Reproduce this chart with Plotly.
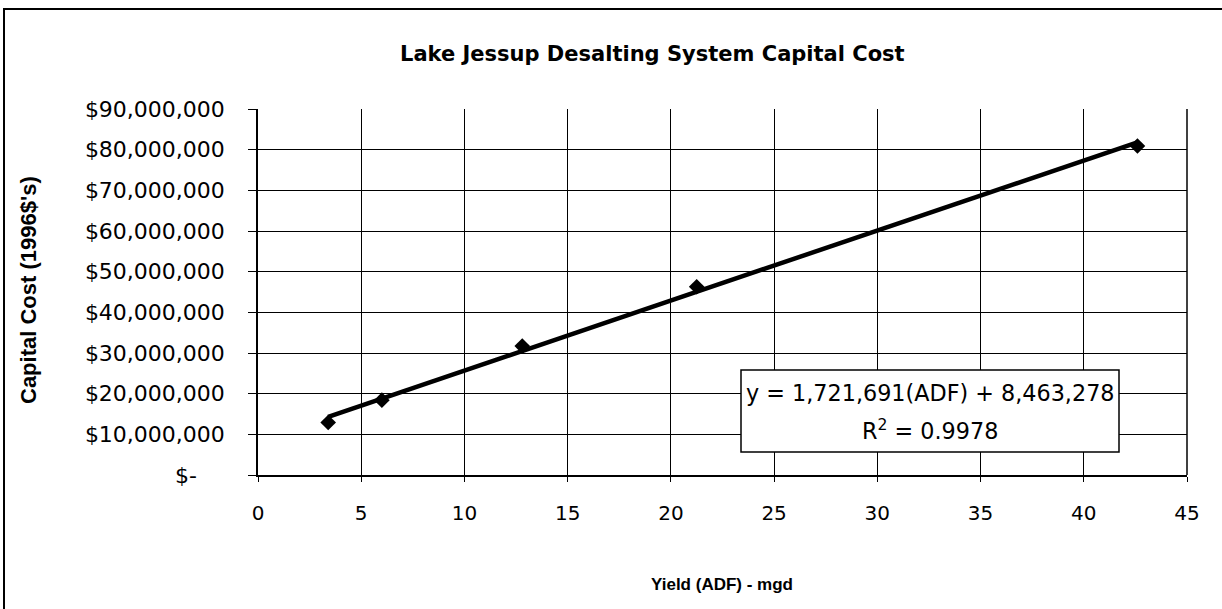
import plotly.graph_objects as go

# Plant size (average daily flow, mgd) vs capital cost (1996 dollars)
yield_mgd = [3.4, 6.0, 12.8, 21.25, 42.6]
capital_cost = [12_900_000, 18_400_000, 31_700_000, 46_300_000, 80_900_000]

# Linear trendline coefficients
slope = 1_721_691
intercept = 8_463_278
r_squared = 0.9978

y_ticks = [0, 10_000_000, 20_000_000, 30_000_000, 40_000_000,
           50_000_000, 60_000_000, 70_000_000, 80_000_000, 90_000_000]
x_ticks = [0, 5, 10, 15, 20, 25, 30, 35, 40, 45]

NBSP = "\u00a0"


def money(v):
    # accounting-style label: zero shown as a dash
    return "$-" + NBSP * 4 if v == 0 else "${:,}".format(v)


FONT = "Liberation Sans"
WIDE_FONT = "DejaVu Sans"
W, H = 1222, 609
L, R, T, B = 258, 35, 109, 134
PW, PH = W - L - R, H - T - B


def px(x):
    return (x - L) / PW


def py(y):
    return (H - B - y) / PH


trend_x = [min(yield_mgd), max(yield_mgd)]
trend_y = [slope * x + intercept for x in trend_x]

fig = go.Figure()
fig.add_trace(go.Scatter(
    x=trend_x, y=trend_y, mode="lines",
    line=dict(color="black", width=4.5), hoverinfo="skip", showlegend=False))
fig.add_trace(go.Scatter(
    x=yield_mgd, y=capital_cost, mode="markers",
    marker=dict(symbol="diamond", size=12, color="black"), showlegend=False))

axis_common = dict(
    showgrid=True, gridcolor="black", gridwidth=1,
    showline=True, linecolor="black", linewidth=1.5,
    zeroline=False, mirror=False,
    tickcolor="black",
)

fig.update_xaxes(
    range=[0, 45], tickvals=x_ticks, ticktext=[str(v) for v in x_ticks],
    ticks="outside", ticklen=5, ticklabelstandoff=14,
    tickfont=dict(family=WIDE_FONT, size=20, color="black"), **axis_common)
fig.update_yaxes(
    range=[0, 90_000_000], tickvals=y_ticks, ticktext=[money(v) for v in y_ticks],
    ticks="outside", ticklen=8, ticklabelstandoff=19,
    tickfont=dict(family=WIDE_FONT, size=22, color="black"), **axis_common)

shapes = [
    # outer chart frame
    dict(type="rect", xref="paper", yref="paper",
         x0=px(4), x1=px(1240), y0=py(9), y1=py(640),
         line=dict(color="black", width=2), fillcolor="rgba(0,0,0,0)", layer="below"),
    # right plot edge
    dict(type="line", xref="paper", yref="paper", x0=1, x1=1, y0=0, y1=1,
         line=dict(color="black", width=1.5)),
    # equation box
    dict(type="rect", xref="paper", yref="paper",
         x0=px(741), x1=px(1119), y0=py(452), y1=py(370),
         line=dict(color="black", width=1.5), fillcolor="white", layer="above"),
]

annotations = [
    dict(text="<b>Lake Jessup Desalting System Capital Cost</b>",
         xref="paper", yref="paper", x=px(652), y=py(54),
         xanchor="center", yanchor="middle",
         showarrow=False, font=dict(family=WIDE_FONT, size=21, color="black")),
    dict(text="<b>Capital Cost (1996$'s)</b>", textangle=-90,
         xref="paper", yref="paper", x=px(28), y=py(290),
         xanchor="center", yanchor="middle",
         showarrow=False, font=dict(family=FONT, size=22, color="black")),
    dict(text="<b>Yield (ADF) - mgd</b>",
         xref="paper", yref="paper", x=px(722), y=py(584),
         xanchor="center", yanchor="middle",
         showarrow=False, font=dict(family=FONT, size=17, color="black")),
    dict(text="y = {:,}(ADF) + {:,}".format(slope, intercept),
         xref="paper", yref="paper", x=px(930), y=py(393),
         xanchor="center", yanchor="middle",
         showarrow=False, font=dict(family=WIDE_FONT, size=22.3, color="black")),
    dict(text="R<sup>2</sup> = {}".format(r_squared),
         xref="paper", yref="paper", x=px(930), y=py(430),
         xanchor="center", yanchor="middle",
         showarrow=False, font=dict(family=WIDE_FONT, size=22.3, color="black")),
]

fig.update_layout(
    width=W, height=H,
    margin=dict(l=L, r=R, t=T, b=B),
    paper_bgcolor="white", plot_bgcolor="white",
    shapes=shapes, annotations=annotations,
    showlegend=False,
)

fig.write_html("out.html")
